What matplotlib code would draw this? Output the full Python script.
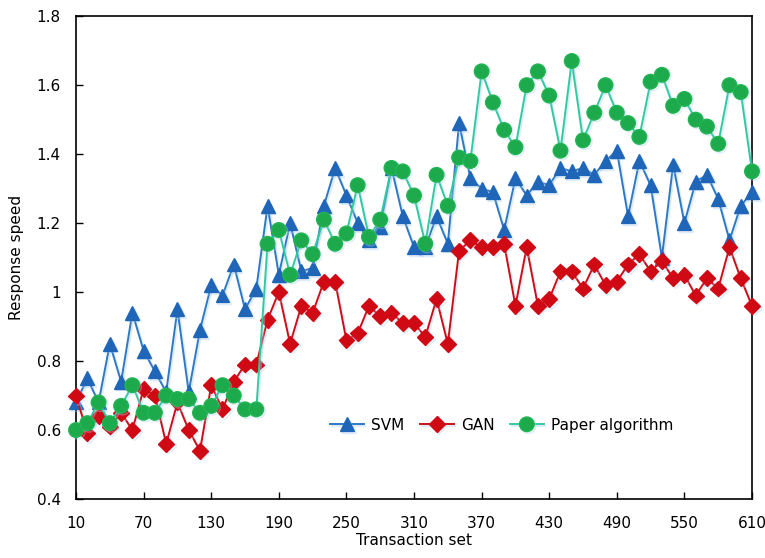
import matplotlib
matplotlib.use("Agg")
import matplotlib.pyplot as plt
import matplotlib.patheffects as pe
import numpy as np

x = list(range(10, 611, 10))
svm = [0.68, 0.75, 0.68, 0.85, 0.74, 0.94, 0.83, 0.77, 0.71, 0.95,
       0.71, 0.89, 1.02, 0.99, 1.08, 0.95, 1.01, 1.25, 1.05, 1.20,
       1.06, 1.07, 1.25, 1.36, 1.28, 1.20, 1.15, 1.19, 1.36, 1.22,
       1.13, 1.13, 1.22, 1.14, 1.49, 1.33, 1.30, 1.29, 1.18, 1.33,
       1.28, 1.32, 1.31, 1.36, 1.35, 1.36, 1.34, 1.38, 1.41, 1.22,
       1.38, 1.31, 1.10, 1.37, 1.20, 1.32, 1.34, 1.27, 1.15, 1.25, 1.29]
gan = [0.70, 0.59, 0.64, 0.61, 0.65, 0.60, 0.72, 0.70, 0.56, 0.68,
       0.60, 0.54, 0.73, 0.66, 0.74, 0.79, 0.79, 0.92, 1.00, 0.85,
       0.96, 0.94, 1.03, 1.03, 0.86, 0.88, 0.96, 0.93, 0.94, 0.91,
       0.91, 0.87, 0.98, 0.85, 1.12, 1.15, 1.13, 1.13, 1.14, 0.96,
       1.13, 0.96, 0.98, 1.06, 1.06, 1.01, 1.08, 1.02, 1.03, 1.08,
       1.11, 1.06, 1.09, 1.04, 1.05, 0.99, 1.04, 1.01, 1.13, 1.04, 0.96]
paper = [0.60, 0.62, 0.68, 0.62, 0.67, 0.73, 0.65, 0.65, 0.70, 0.69,
         0.69, 0.65, 0.67, 0.73, 0.70, 0.66, 0.66, 1.14, 1.18, 1.05,
         1.15, 1.11, 1.21, 1.14, 1.17, 1.31, 1.16, 1.21, 1.36, 1.35,
         1.28, 1.14, 1.34, 1.25, 1.39, 1.38, 1.64, 1.55, 1.47, 1.42,
         1.60, 1.64, 1.57, 1.41, 1.67, 1.44, 1.52, 1.60, 1.52, 1.49,
         1.45, 1.61, 1.63, 1.54, 1.56, 1.50, 1.48, 1.43, 1.60, 1.58, 1.35]

xticks = list(range(10, 611, 60))
yticks = [0.4, 0.6, 0.8, 1.0, 1.2, 1.4, 1.6, 1.8]
yticklabels = ["0.4", "0.6", "0.8", "1", "1.2", "1.4", "1.6", "1.8"]

plt.rcParams['font.family'] = ['DejaVu Sans']
fig = plt.figure(figsize=(7.65, 5.58), dpi=100)
ax = fig.add_axes([0.0994, 0.1057, 0.8836, 0.8653])

shadow = [pe.SimpleLineShadow(offset=(1.2, -1.2), shadow_color='#a8d0f0', alpha=0.4), pe.Normal()]

ax.plot(x, svm, color='#2F78C4', lw=1.4, marker='^', ms=10, mfc='#1F66B8', mec='#1F66B8',
        label='SVM', zorder=3, path_effects=shadow, clip_on=False)
ax.plot(x, gan, color='#C8101A', lw=1.4, marker='D', ms=8, mfc='#D00A14', mec='#D00A14',
        label='GAN', zorder=4, path_effects=shadow, clip_on=False)
ax.plot(x, paper, color='#33C9A0', lw=1.4, marker='o', ms=10.5, mfc='#1DAA4C', mec='#22B554',
        label='Paper algorithm', zorder=5, path_effects=shadow, clip_on=False)

ax.set_xlim(10, 610)
ax.set_ylim(0.4, 1.8)
ax.set_xticks(xticks)
ax.set_xticklabels([str(t) for t in xticks])
ax.set_yticks(yticks)
ax.set_yticklabels(yticklabels)
ax.tick_params(direction='in', length=5, width=1, labelsize=11, colors='black', top=False, right=False)
ax.tick_params(axis='x', pad=12)
ax.tick_params(axis='y', pad=11)
for s in ax.spines.values():
    s.set_linewidth(1.2)
    s.set_color('black')
    s.set_zorder(2)

ax.set_xlabel('Transaction set', fontsize=11, labelpad=2)
ax.set_ylabel('Response speed', fontsize=11, labelpad=9)

ax.legend(loc='center', bbox_to_anchor=(0.63, 0.153), ncol=3, frameon=False, fontsize=11,
          handlelength=2.2, columnspacing=1.0, handletextpad=0.5)

fig.savefig('out.png', dpi=100)
